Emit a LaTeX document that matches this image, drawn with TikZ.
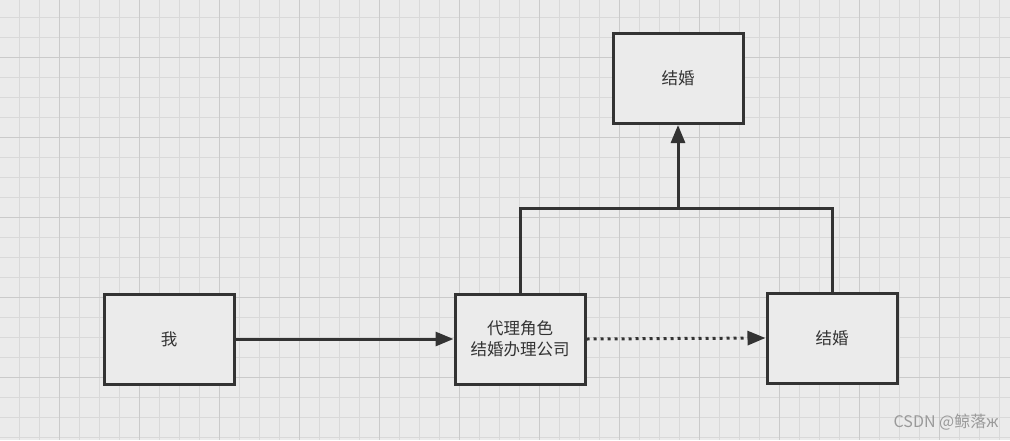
\documentclass[tikz,border=0pt]{standalone}
\usepackage{fontspec}
\setmainfont{Noto Sans CJK SC}
\usetikzlibrary{arrows.meta}
\definecolor{bg}{HTML}{EBEBEB}
\definecolor{gminor}{HTML}{D9D9D9}
\definecolor{gmajor}{HTML}{CACACA}
\definecolor{ink}{HTML}{333333}
\definecolor{wm}{HTML}{9A9A9A}
\tikzset{
  box/.style={draw=ink,line width=3pt,fill=bg,minimum width=130pt,minimum height=90pt,inner sep=0pt,font=\fontsize{16.5pt}{21pt}\selectfont,text=ink,align=center},
  conn/.style={draw=ink,line width=3pt},
  tip/.style={-{Triangle[length=18pt,width=14pt]}}
}
\begin{document}
\begin{tikzpicture}[x=1pt,y=-1pt]
\useasboundingbox (0,0) rectangle (1010,440);
\fill[bg] (0,0) rectangle (1010,440);
\foreach \x in {19,39,...,1010} \draw[gminor,line width=0.8pt] (\x,0) -- (\x,440);
\foreach \y in {17,37,...,440} \draw[gminor,line width=0.8pt] (0,\y) -- (1010,\y);
\foreach \x in {59,139,...,1010} \draw[gmajor,line width=0.9pt] (\x,0) -- (\x,440);
\foreach \y in {57,137,...,440} \draw[gmajor,line width=0.9pt] (0,\y) -- (1010,\y);
\node[box] (me) at (169,339) {我};
\node[box] (proxy) at (520,339) {代理角色\\结婚办理公司};
\node[box] (wedR) at (832,338) {结婚};
\node[box] (wedT) at (678,78.5) {结婚};
\coordinate (j) at (678,208);
\draw[conn,tip] (me.east) -- (proxy.west);
\draw[conn,tip,dash pattern=on 3pt off 4pt] (proxy.east) -- (wedR.west);
\draw[conn,line cap=rect] (proxy.north) |- (j) -| (wedR.north);
\draw[conn,tip] (j) -- (wedT.south);
\node[text=wm,font=\fontsize{16pt}{19pt}\selectfont,anchor=east] (wmk) at (1002,422) {CSDN @鲸落ж};
\end{tikzpicture}
\end{document}
